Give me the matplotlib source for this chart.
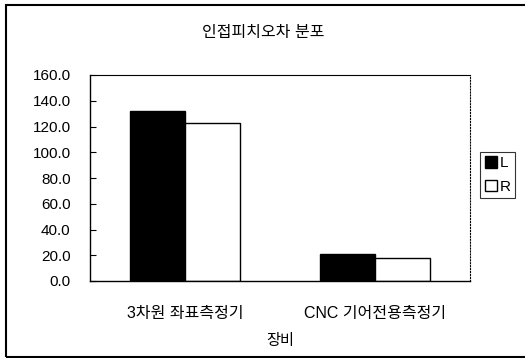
import matplotlib.pyplot as plt
import matplotlib.patches as patches
import numpy as np

plt.rcParams['font.family'] = ['Liberation Sans', 'Noto Sans CJK KR']

# data
categories = ["3차원 좌표측정기", "CNC 기어전용측정기"]
values_L = [132.0, 21.0]
values_R = [123.0, 17.5]
series = ["L", "R"]

fig = plt.figure(figsize=(5.25, 3.58), dpi=100)
ax = fig.add_axes([90/525, 77/358, 380/525, 206/358])

x = np.arange(len(categories))
w = 0.29
ax.bar(x - w/2, values_L, w, color="black", edgecolor="black", linewidth=1, label=series[0])
ax.bar(x + w/2, values_R, w, color="white", edgecolor="black", linewidth=1, label=series[1])

ax.set_xlim(-0.5, 1.5)
ax.set_ylim(0, 160)
ax.set_yticks(np.arange(0, 161, 20))
ax.set_yticklabels([f"{v:.1f}" for v in np.arange(0, 161, 20)], fontsize=11)
ax.set_xticks(x)
ax.set_xticklabels(categories, fontsize=11.5)
ax.tick_params(axis="y", direction="in", length=4, pad=14)
ax.tick_params(axis="x", length=0, pad=18)

ax.spines["left"].set_linewidth(1)
ax.spines["bottom"].set_linewidth(1)
ax.spines["top"].set_linewidth(0.8)
ax.spines["right"].set_linestyle(":")
ax.spines["right"].set_linewidth(0.8)

ax.set_xlabel("장비", fontsize=11, labelpad=9)

fig.text(263/525, 1 - 32/358, "인접피치오차 분포", ha="center", va="center", fontsize=11.5)

# outer chart frame
fig.patches.append(patches.Rectangle((6/525, 1 - 357/358), 1.0, 352/358, transform=fig.transFigure,
                                     fill=False, edgecolor="black", linewidth=1.5))

leg = fig.legend(loc="center left", bbox_to_anchor=(480/525, 1 - 175/358), fontsize=11,
                 frameon=True, fancybox=False, handlelength=0.8, handleheight=0.8,
                 handletextpad=0.2, borderpad=0.3, labelspacing=0.6, borderaxespad=0)
leg.get_frame().set_edgecolor("black")
leg.get_frame().set_linewidth(0.8)

fig.savefig("out.png", dpi=100)
